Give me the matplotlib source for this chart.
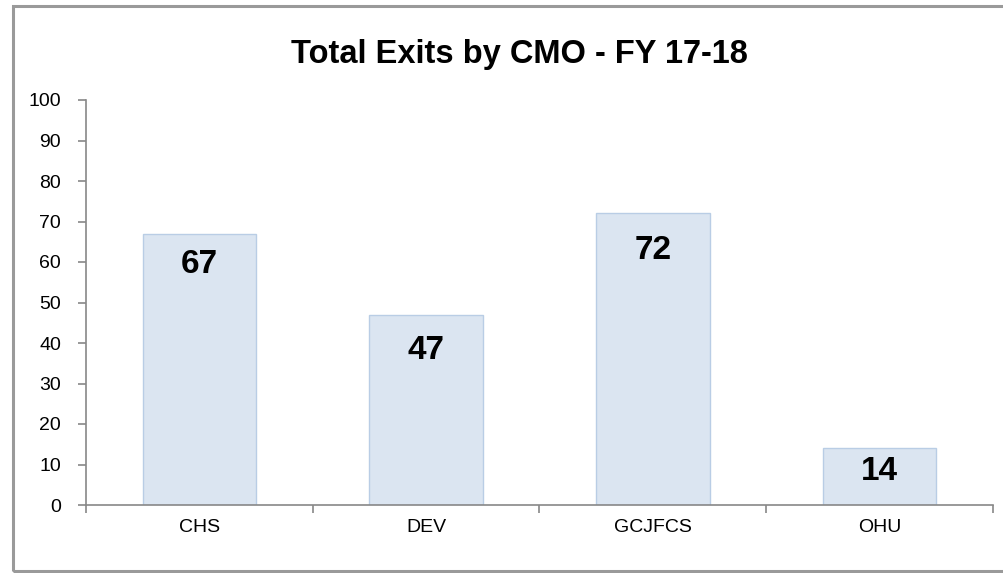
import matplotlib.pyplot as plt
from matplotlib.patches import Rectangle

plt.rcParams['font.family'] = ['Liberation Sans', 'DejaVu Sans']

cmos = ['CHS', 'DEV', 'GCJFCS', 'OHU']
exits = [67, 47, 72, 14]
yticks = list(range(0, 101, 10))

# how far below the bar top each value label sits (points)
label_drop = [22, 26, 27, 17]

fig = plt.figure(figsize=(10.04, 5.73), dpi=100)
ax = fig.add_axes([86/1004, 1 - 505/573, (993 - 86)/1004, (505 - 100)/573])

# outer chart border (right edge runs off the picture)
fig.patches.append(Rectangle((13.5/1004, 2/573), 1.0, 1 - 8/573,
                             transform=fig.transFigure, fill=False,
                             edgecolor='#9a9a9a', linewidth=2.2))

x = range(len(cmos))
ax.bar(x, exits, width=0.5, color='#dbe5f1', edgecolor='#b9cde5', linewidth=1)
for xi, v, d in zip(x, exits, label_drop):
    ax.annotate(str(v), (xi, v), xytext=(0, -d), textcoords='offset points',
                ha='center', va='center', fontsize=24, fontweight='bold', color='black')

ax.set_xlim(-0.5, 3.5)
ax.set_ylim(0, 100)
ax.set_yticks(yticks)
ax.set_xticks([-0.5, 0.5, 1.5, 2.5, 3.5])
ax.set_xticklabels([])
ax.set_xticks(list(x), minor=True)
ax.set_xticklabels(cmos, minor=True)
ax.tick_params(axis='x', which='minor', length=0, pad=10, labelsize=14)
ax.tick_params(axis='x', which='major', length=6, color='#888888', width=1.2)
ax.tick_params(axis='y', length=6, color='#888888', width=1.2, labelsize=14, pad=12)

for s in ['top', 'right']:
    ax.spines[s].set_visible(False)
for s in ['left', 'bottom']:
    ax.spines[s].set_color('#888888')
    ax.spines[s].set_linewidth(1.2)
ax.spines['left'].set_bounds(0, 100)

fig.text(519/1004, 1 - 63/573, 'Total Exits by CMO - FY 17-18', ha='center', va='baseline',
         fontsize=23.5, fontweight='bold')

fig.savefig('out.png', dpi=100)
